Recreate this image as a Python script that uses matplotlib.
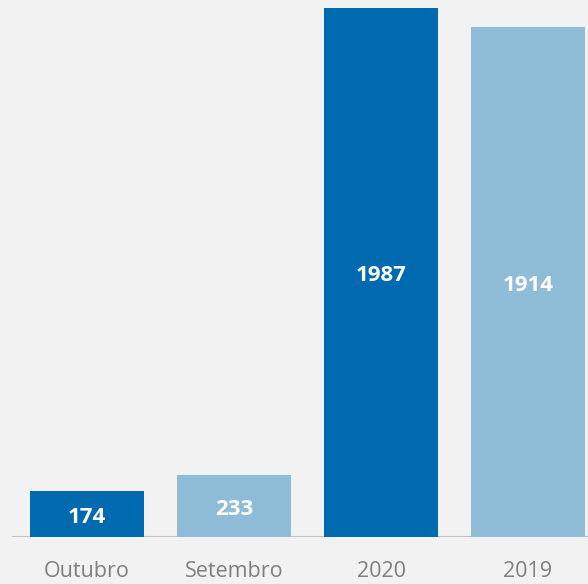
import matplotlib.pyplot as plt

categories = ['Outubro', 'Setembro', '2020', '2019']
values = [174, 233, 1987, 1914]
colors = ['#006AB0', '#8FBCD6', '#006AB0', '#8FBCD6']

plt.rcParams['font.family'] = ['Open Sans', 'DejaVu Sans']

fig = plt.figure(figsize=(5.88, 5.84), dpi=100, facecolor='#F2F2F2')
ax = fig.add_axes([0, 47 / 584, 1, 537 / 584])
ax.set_facecolor('#F2F2F2')

x = list(range(len(categories)))
bars = ax.bar(x, values, width=0.776, color=colors, zorder=2)

ax.set_xlim(-87 / 147, (588 - 87) / 147)
ax.set_ylim(0, 1987 * 537 / 529)

for b, v in zip(bars, values):
    ax.text(b.get_x() + b.get_width() / 2, v / 2 - 12, str(v), ha='center', va='center',
            color='white', fontsize=16, fontweight='bold', zorder=3)

ax.axhline(0, xmin=13 / 588, xmax=1, color='#BFBFBF', lw=1.5, zorder=1)

ax.set_xticks(x)
ax.set_xticklabels(categories, color='#7F7F7F', fontsize=15.5)
ax.tick_params(axis='x', length=0, pad=17)
ax.set_yticks([])
for s in ax.spines.values():
    s.set_visible(False)

fig.savefig('out.png', dpi=100, facecolor=fig.get_facecolor())
